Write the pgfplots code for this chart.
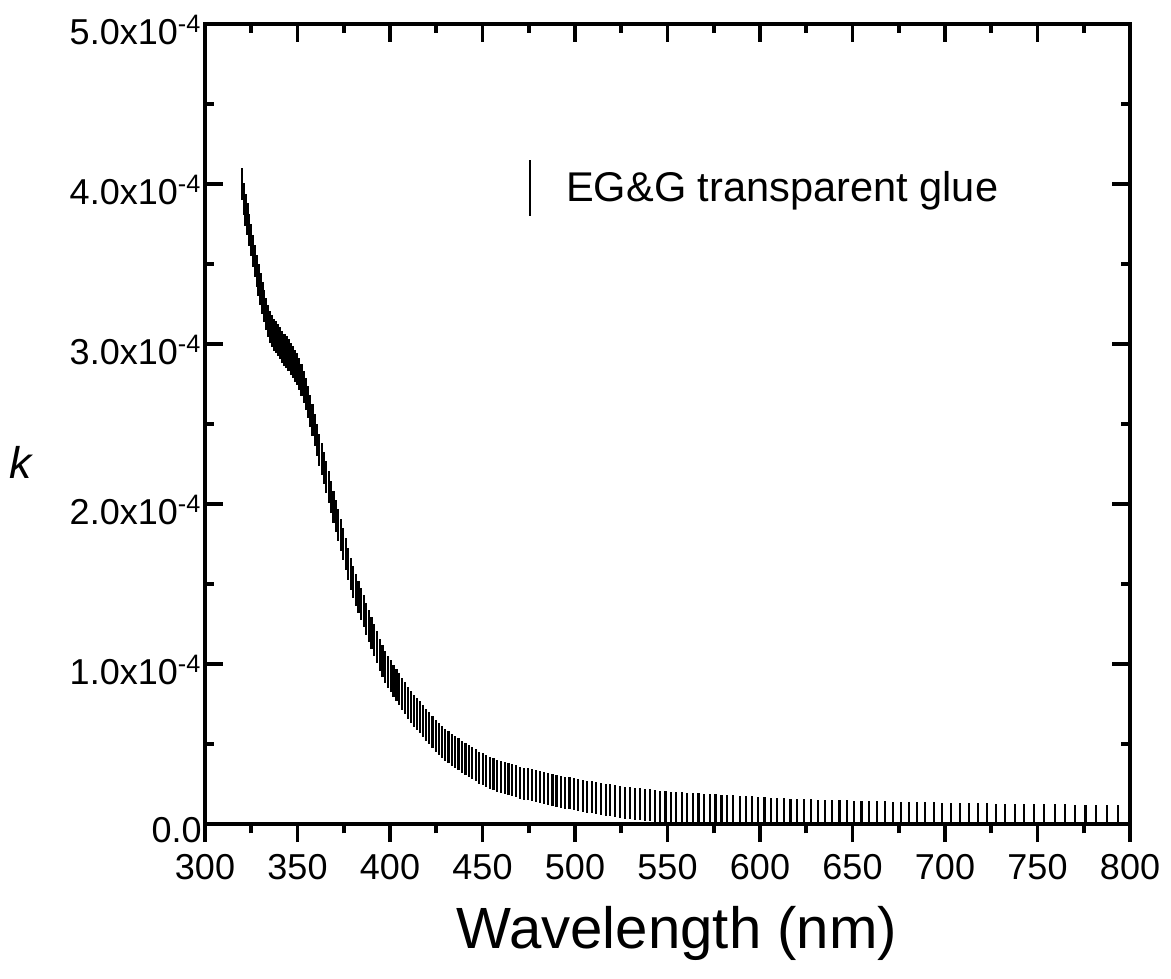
\documentclass[border=0pt]{standalone}
\usepackage{pgfplots}
\pgfplotsset{compat=1.18}
\usepackage{pgfplotstable}
\usepackage{fontspec}
\setmainfont{Liberation Sans}
\usetikzlibrary{calc}

\pgfplotstableread{
lambda k
319.96 40.00e-5
320.94 39.05e-5
321.92 38.40e-5
322.91 37.80e-5
323.90 37.15e-5
324.91 36.50e-5
325.91 35.85e-5
326.93 35.20e-5
327.95 34.60e-5
328.97 34.00e-5
330.01 33.45e-5
331.05 32.90e-5
332.09 32.38e-5
333.14 31.90e-5
334.20 31.45e-5
335.26 31.10e-5
336.33 30.85e-5
337.40 30.60e-5
338.48 30.42e-5
339.57 30.25e-5
340.71 30.05e-5
341.82 29.85e-5
342.93 29.65e-5
344.05 29.50e-5
345.18 29.30e-5
346.31 29.10e-5
347.45 28.90e-5
348.60 28.65e-5
349.76 28.45e-5
350.92 28.15e-5
352.13 27.75e-5
353.31 27.35e-5
354.50 26.90e-5
355.70 26.40e-5
356.90 25.85e-5
358.11 25.25e-5
359.33 24.65e-5
360.56 24.00e-5
361.80 23.40e-5
363.05 22.85e-5
364.34 22.25e-5
365.60 21.70e-5
366.87 21.05e-5
368.15 20.45e-5
369.44 19.85e-5
370.74 19.25e-5
372.05 18.70e-5
373.37 18.10e-5
374.70 17.50e-5
376.04 16.90e-5
377.42 16.25e-5
378.78 15.65e-5
380.15 15.15e-5
381.53 14.65e-5
382.92 14.20e-5
384.32 13.75e-5
385.73 13.30e-5
387.15 12.85e-5
388.58 12.40e-5
390.02 11.95e-5
391.49 11.50e-5
392.95 11.05e-5
394.42 10.60e-5
395.90 10.20e-5
397.39 9.85e-5
398.89 9.50e-5
400.40 9.25e-5
401.93 8.96e-5
403.47 8.70e-5
405.02 8.42e-5
406.64 8.14e-5
408.21 7.86e-5
409.80 7.58e-5
411.40 7.30e-5
413.01 7.07e-5
414.63 6.87e-5
416.27 6.67e-5
417.92 6.46e-5
419.58 6.20e-5
421.26 5.99e-5
423.01 5.76e-5
424.71 5.53e-5
426.43 5.32e-5
428.16 5.13e-5
429.91 4.96e-5
431.67 4.81e-5
433.44 4.66e-5
435.23 4.52e-5
437.03 4.37e-5
438.85 4.22e-5
440.75 4.06e-5
442.60 3.93e-5
444.46 3.80e-5
446.34 3.67e-5
448.24 3.54e-5
450.15 3.42e-5
452.08 3.32e-5
454.03 3.22e-5
455.99 3.13e-5
457.97 3.04e-5
460.05 2.96e-5
462.06 2.88e-5
464.09 2.81e-5
466.14 2.74e-5
468.21 2.67e-5
470.30 2.60e-5
472.41 2.54e-5
474.53 2.49e-5
476.67 2.44e-5
478.83 2.38e-5
481.12 2.32e-5
483.32 2.26e-5
485.54 2.20e-5
487.78 2.14e-5
490.05 2.08e-5
492.34 2.03e-5
494.65 1.97e-5
496.98 1.92e-5
499.33 1.86e-5
501.70 1.82e-5
504.20 1.77e-5
506.62 1.72e-5
509.06 1.67e-5
511.53 1.62e-5
514.02 1.57e-5
516.54 1.53e-5
519.08 1.48e-5
521.65 1.43e-5
524.24 1.39e-5
526.86 1.35e-5
529.62 1.31e-5
532.29 1.27e-5
534.99 1.23e-5
537.71 1.20e-5
540.46 1.17e-5
543.24 1.13e-5
546.05 1.10e-5
548.89 1.07e-5
551.76 1.04e-5
554.66 1.02e-5
557.73 0.99e-5
560.69 0.97e-5
563.68 0.95e-5
566.70 0.92e-5
569.76 0.90e-5
572.85 0.88e-5
575.97 0.86e-5
579.13 0.84e-5
582.32 0.82e-5
585.55 0.80e-5
589.00 0.77e-5
592.29 0.75e-5
595.63 0.73e-5
599.01 0.70e-5
602.43 0.68e-5
605.88 0.66e-5
609.37 0.64e-5
612.90 0.62e-5
616.48 0.60e-5
620.10 0.59e-5
623.98 0.57e-5
627.68 0.55e-5
631.43 0.54e-5
635.22 0.52e-5
639.06 0.50e-5
642.95 0.49e-5
646.89 0.48e-5
650.87 0.47e-5
654.90 0.46e-5
658.98 0.45e-5
663.37 0.43e-5
667.56 0.42e-5
671.80 0.41e-5
676.10 0.40e-5
680.45 0.39e-5
684.86 0.38e-5
689.32 0.37e-5
693.84 0.355e-5
698.42 0.345e-5
703.06 0.335e-5
708.07 0.325e-5
712.84 0.315e-5
717.68 0.305e-5
722.58 0.295e-5
727.55 0.285e-5
732.59 0.275e-5
737.70 0.27e-5
742.88 0.26e-5
748.13 0.25e-5
753.46 0.245e-5
759.24 0.235e-5
764.73 0.23e-5
770.30 0.22e-5
775.95 0.21e-5
781.68 0.205e-5
787.50 0.20e-5
793.66 0.19e-5
}\glue

\begin{document}
\begin{tikzpicture}
\pgfplotsset{
  common/.style={
    scale only axis, width=333.9pt, height=288.8pt,
    xmin=300, xmax=800, ymin=0, ymax=5e-4,
    axis line style={line width=1.4pt},
    every tick/.style={line width=1.4pt, black},
    major tick length=6.5pt, minor tick length=3.3pt,
    xtick={300,350,...,800}, minor x tick num=1,
    scaled y ticks=false,
  }
}
\begin{axis}[common, name=main,
  xtick pos=left, tick align=outside,
  ytick=\empty,
  /pgf/number format/assume math mode=true,
  xticklabel style={font=\fontsize{13}{15}\selectfont, yshift=-1pt},
  xlabel={Wavelength (nm)},
  xlabel style={font=\fontsize{21}{25}\selectfont, at={(axis description cs:0.51,-0.137)}, anchor=center},
  legend style={draw=none, fill=none, font=\fontsize{15}{18}\selectfont,
    at={(axis description cs:0.345,0.795)}, anchor=west, inner sep=0pt},
  legend cell align=left,
]
\addplot[draw=none, mark=none,
  legend image code/.code={\draw[line width=0.75pt, black] (0pt,-10pt) -- (0pt,10pt); \path (-2pt,0pt) (11pt,0pt);},
  error bars/.cd, y dir=both, y fixed=1e-5, error mark=none,
  error bar style={draw=black, line width=0.8pt, solid}]
  table[x=lambda, y=k] {\glue};
\addlegendentry{EG\&G transparent glue}
\end{axis}
\begin{axis}[common,
  xtick pos=right, tick align=inside, xticklabels={},
  ytick pos=both,
  ytick={0,1e-4,2e-4,3e-4,4e-4,5e-4}, minor y tick num=1,
  yticklabels={0.0, 1.0x10\textsuperscript{-4}, 2.0x10\textsuperscript{-4}, 3.0x10\textsuperscript{-4}, 4.0x10\textsuperscript{-4}, 5.0x10\textsuperscript{-4}},
  yticklabel style={font=\fontsize{13}{15}\selectfont, inner xsep=1pt, yshift=-2pt},
  ylabel={\textit{k}},
  ylabel style={rotate=-90, font=\fontsize{16}{19}\selectfont, at={(axis description cs:-0.198,0.4525)}, anchor=center},
]
\end{axis}
\pgfresetboundingbox
\path[use as bounding box] ($(main.south west)+(-74pt,-55.6pt)$) rectangle ($(main.north east)+(14.8pt,8.7pt)$);
\end{tikzpicture}
\end{document}
